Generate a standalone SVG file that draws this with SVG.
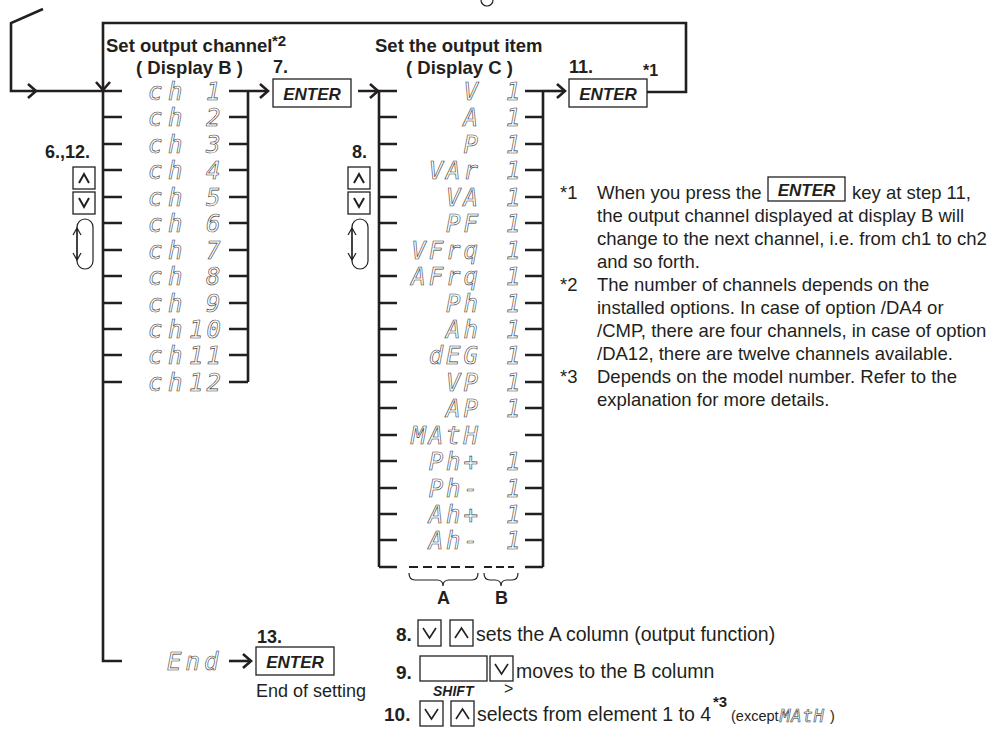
<svg xmlns="http://www.w3.org/2000/svg" width="1002" height="737" viewBox="0 0 1002 737">
<style>
text{font-family:"Liberation Sans",Arial,sans-serif;fill:#231f20}
.b{font-weight:bold}
.h{font-weight:bold;font-size:18px}
.t{font-weight:bold;font-size:18.5px}
.n{font-size:18.5px}
.big{font-size:19.5px}
.key{font-weight:bold;font-style:italic;font-size:17px}
.seg{font-family:"DejaVu Sans Mono","Liberation Mono",monospace;font-style:italic;font-size:24px;fill:none;stroke:#3a3a3a;stroke-width:0.6}
.ln{fill:none;stroke:#231f20;stroke-width:2.6;stroke-linejoin:miter}
.th{fill:none;stroke:#231f20;stroke-width:1.2}
.box{fill:#fff;stroke:#231f20;stroke-width:1.3}
</style>
<defs>
<path id="chevR" d="M-8,-7 L0,0 L-8,7" class="ln"/>
</defs>

<g id="connectors">
  <path class="th" d="M481,0 A6,6 0 0 0 493,0"/>
  <path class="ln" d="M43,9 L11,23 L11,91 L122,91"/>
  <path class="ln" d="M647,92 L686,92 L686,23 L103,23 L103,661 L122,661"/>
  <path class="ln" d="M28,84 L36,91 L28,98"/>
  <path class="ln" d="M96,82 L103,90 L110,82"/>
  <path class="ln" d="M103,117H122M103,144H122M103,170H122M103,197H122M103,223H122M103,250H122M103,276H122M103,303H122M103,329H122M103,355H122M103,382H122"/>
  <path class="ln" d="M229,117H248M229,144H248M229,170H248M229,197H248M229,223H248M229,250H248M229,276H248M229,303H248M229,329H248M229,355H248M229,382H248M248,91V382"/>
  <path class="ln" d="M229,91H268"/>
  <use href="#chevR" x="268" y="91"/>
  <path class="ln" d="M358,91H397"/>
  <use href="#chevR" x="378" y="91"/>
  <path class="ln" d="M379,91V567"/>
  <path class="ln" d="M379,117H397M379,144H397M379,170H397M379,197H397M379,223H397M379,250H397M379,276H397M379,303H397M379,329H397M379,355H397M379,382H397M379,408H397M379,435H397M379,461H397M379,488H397M379,514H397M379,540H397M379,567H397"/>
  <path class="ln" d="M525,91H543M525,117H543M525,144H543M525,170H543M525,197H543M525,223H543M525,250H543M525,276H543M525,303H543M525,329H543M525,355H543M525,382H543M525,408H543M525,435H543M525,461H543M525,488H543M525,514H543M525,540H543M525,567H543M543,91V567"/>
  <path class="ln" d="M543,91H565"/>
  <use href="#chevR" x="565" y="91"/>
  <path class="ln" d="M409,567H478" stroke-dasharray="9 5" style="stroke-width:2"/>
  <path class="ln" d="M484,567H514" stroke-dasharray="8 4" style="stroke-width:2"/>
  <path class="th" d="M409,573 Q409,580 415,580 L437,580 Q443,580 443,586 Q443,580 449,580 L472,580 Q478,580 478,573"/>
  <path class="th" d="M484,573 Q484,580 490,580 L495,580 Q501,580 501,586 Q501,580 507,580 L512,580 Q518,580 518,573"/>
  <path class="ln" d="M229,661H251"/>
  <use href="#chevR" x="251" y="661"/>
</g>

<g id="title-b">
  <text class="t" x="106" y="52">Set output channel</text>
  <text class="b" x="272" y="46" font-size="15">*2</text>
  <text class="t" x="136" y="74">( Display B )</text>
</g>
<g id="title-c">
  <text class="t" x="375" y="52">Set the output item</text>
  <text class="t" x="406" y="74">( Display C )</text>
</g>

<g id="step7">
  <text class="h" x="273" y="73">7.</text>
  <rect class="box" x="273" y="79" width="78" height="28"/>
  <text class="key" x="312" y="100" text-anchor="middle">ENTER</text>
</g>
<g id="step11">
  <text class="h" x="569" y="73">11.</text>
  <text class="b" x="643" y="76" font-size="16">*1</text>
  <rect class="box" x="569" y="79" width="78" height="28"/>
  <text class="key" x="608" y="100" text-anchor="middle">ENTER</text>
</g>

<g id="list-b">
  <text class="seg" x="148" y="100" letter-spacing="5.5">ch</text><text class="seg" x="206" y="100">1</text>
  <text class="seg" x="148" y="126" letter-spacing="5.5">ch</text><text class="seg" x="206" y="126">2</text>
  <text class="seg" x="148" y="153" letter-spacing="5.5">ch</text><text class="seg" x="206" y="153">3</text>
  <text class="seg" x="148" y="179" letter-spacing="5.5">ch</text><text class="seg" x="206" y="179">4</text>
  <text class="seg" x="148" y="206" letter-spacing="5.5">ch</text><text class="seg" x="206" y="206">5</text>
  <text class="seg" x="148" y="232" letter-spacing="5.5">ch</text><text class="seg" x="206" y="232">6</text>
  <text class="seg" x="148" y="259" letter-spacing="5.5">ch</text><text class="seg" x="206" y="259">7</text>
  <text class="seg" x="148" y="285" letter-spacing="5.5">ch</text><text class="seg" x="206" y="285">8</text>
  <text class="seg" x="148" y="312" letter-spacing="5.5">ch</text><text class="seg" x="206" y="312">9</text>
  <text class="seg" x="148" y="338" letter-spacing="5.5">ch</text><text class="seg" x="189" y="338" letter-spacing="3">10</text>
  <text class="seg" x="148" y="364" letter-spacing="5.5">ch</text><text class="seg" x="189" y="364" letter-spacing="3">11</text>
  <text class="seg" x="148" y="391" letter-spacing="5.5">ch</text><text class="seg" x="189" y="391" letter-spacing="3">12</text>
</g>

<g id="keys-b">
  <text class="h" x="45" y="158">6.,12.</text>
  <rect class="box" x="73" y="167" width="22" height="22"/>
  <path class="th" d="M79,183 L84,174 L89,183" style="stroke-width:2"/>
  <rect class="box" x="73" y="192" width="22" height="22"/>
  <path class="th" d="M79,198 L84,207 L89,198" style="stroke-width:2"/>
  <rect class="th" x="77" y="219" width="16" height="50" rx="8"/>
  <path class="th" d="M77,229 V259 M73,235 L77,228 L81,235 M73,253 L77,260 L81,253"/>
</g>

<g id="list-c">
  <text class="seg" x="481" y="100" text-anchor="end" letter-spacing="3">V</text><text class="seg" x="506" y="100">1</text>
  <text class="seg" x="481" y="126" text-anchor="end" letter-spacing="3">A</text><text class="seg" x="506" y="126">1</text>
  <text class="seg" x="481" y="153" text-anchor="end" letter-spacing="3">P</text><text class="seg" x="506" y="153">1</text>
  <text class="seg" x="481" y="179" text-anchor="end" letter-spacing="3">VAr</text><text class="seg" x="506" y="179">1</text>
  <text class="seg" x="481" y="206" text-anchor="end" letter-spacing="3">VA</text><text class="seg" x="506" y="206">1</text>
  <text class="seg" x="481" y="232" text-anchor="end" letter-spacing="3">PF</text><text class="seg" x="506" y="232">1</text>
  <text class="seg" x="481" y="259" text-anchor="end" letter-spacing="3">VFrq</text><text class="seg" x="506" y="259">1</text>
  <text class="seg" x="481" y="285" text-anchor="end" letter-spacing="3">AFrq</text><text class="seg" x="506" y="285">1</text>
  <text class="seg" x="481" y="312" text-anchor="end" letter-spacing="3">Ph</text><text class="seg" x="506" y="312">1</text>
  <text class="seg" x="481" y="338" text-anchor="end" letter-spacing="3">Ah</text><text class="seg" x="506" y="338">1</text>
  <text class="seg" x="481" y="364" text-anchor="end" letter-spacing="3">dEG</text><text class="seg" x="506" y="364">1</text>
  <text class="seg" x="481" y="391" text-anchor="end" letter-spacing="3">VP</text><text class="seg" x="506" y="391">1</text>
  <text class="seg" x="481" y="417" text-anchor="end" letter-spacing="3">AP</text><text class="seg" x="506" y="417">1</text>
  <text class="seg" x="481" y="444" text-anchor="end" letter-spacing="3">MAtH</text>
  <text class="seg" x="481" y="470" text-anchor="end" letter-spacing="3">Ph+</text><text class="seg" x="506" y="470">1</text>
  <text class="seg" x="481" y="497" text-anchor="end" letter-spacing="3">Ph-</text><text class="seg" x="506" y="497">1</text>
  <text class="seg" x="481" y="523" text-anchor="end" letter-spacing="3">Ah+</text><text class="seg" x="506" y="523">1</text>
  <text class="seg" x="481" y="549" text-anchor="end" letter-spacing="3">Ah-</text><text class="seg" x="506" y="549">1</text>
  <text class="h" x="437" y="604">A</text>
  <text class="h" x="495" y="604">B</text>
</g>

<g id="keys-c">
  <text class="h" x="352" y="158">8.</text>
  <rect class="box" x="348" y="167" width="22" height="22"/>
  <path class="th" d="M354,183 L359,174 L364,183" style="stroke-width:2"/>
  <rect class="box" x="348" y="192" width="22" height="22"/>
  <path class="th" d="M354,198 L359,207 L364,198" style="stroke-width:2"/>
  <rect class="th" x="352" y="219" width="16" height="50" rx="8"/>
  <path class="th" d="M352,229 V259 M348,235 L352,228 L356,235 M348,253 L352,260 L356,253"/>
</g>

<g id="notes">
  <text class="n" x="560" y="199">*1</text>
  <text class="n" x="597" y="199">When you press the</text>
  <rect class="box" x="768" y="177" width="77" height="24"/>
  <text class="key" x="806.5" y="196" text-anchor="middle">ENTER</text>
  <text class="n" x="852" y="199">key at step 11,</text>
  <text class="n" x="597" y="222">the output channel displayed at display B will</text>
  <text class="n" x="597" y="245">change to the next channel, i.e. from ch1 to ch2</text>
  <text class="n" x="597" y="268">and so forth.</text>
  <text class="n" x="560" y="291">*2</text>
  <text class="n" x="597" y="291">The number of channels depends on the</text>
  <text class="n" x="597" y="314">installed options. In case of option /DA4 or</text>
  <text class="n" x="597" y="337">/CMP, there are four channels, in case of option</text>
  <text class="n" x="597" y="360">/DA12, there are twelve channels available.</text>
  <text class="n" x="560" y="383">*3</text>
  <text class="n" x="597" y="383">Depends on the model number. Refer to the</text>
  <text class="n" x="597" y="406">explanation for more details.</text>
</g>

<g id="step13">
  <text class="seg" x="167" y="670" letter-spacing="4">End</text>
  <text class="h" x="257" y="643">13.</text>
  <rect class="box" x="256" y="647" width="78" height="28"/>
  <text class="key" x="295" y="668" text-anchor="middle">ENTER</text>
  <text x="256" y="697" font-size="18">End of setting</text>
</g>

<g id="steps-bottom">
  <text class="h" x="396" y="641" style="font-size:19px">8.</text>
  <rect class="box" x="418" y="620" width="23" height="26"/>
  <path class="th" d="M423,628 L429.5,638 L436,628" style="stroke-width:1.6"/>
  <rect class="box" x="450" y="620" width="23" height="26"/>
  <path class="th" d="M455,638 L461.5,628 L468,638" style="stroke-width:1.6"/>
  <text class="big" x="476" y="641">sets the A column (output function)</text>

  <text class="h" x="396" y="679" style="font-size:19px">9.</text>
  <rect class="box" x="420" y="656" width="67" height="25"/>
  <rect class="box" x="490" y="656" width="23" height="25"/>
  <path class="th" d="M495,664 L501.5,674 L508,664" style="stroke-width:1.6"/>
  <text class="big" x="516" y="678">moves to the B column</text>
  <text class="key" x="433" y="696" style="font-size:14px">SHIFT</text>
  <text x="504" y="694" font-size="16">&gt;</text>

  <text class="h" x="384" y="721" style="font-size:19px">10.</text>
  <rect class="box" x="420" y="701" width="23" height="25"/>
  <path class="th" d="M425,709 L431.5,719 L438,709" style="stroke-width:1.6"/>
  <rect class="box" x="451" y="701" width="23" height="25"/>
  <path class="th" d="M456,719 L462.5,709 L469,719" style="stroke-width:1.6"/>
  <text class="big" x="477" y="721">selects from element 1 to 4</text>
  <text class="b" x="713" y="707" font-size="15">*3</text>
  <text x="731" y="721" font-size="14.5">(except</text>
  <text class="seg" x="780" y="722" letter-spacing="1" style="font-size:17px">MAtH</text>
  <text x="830" y="721" font-size="14.5">)</text>
</g>
</svg>
